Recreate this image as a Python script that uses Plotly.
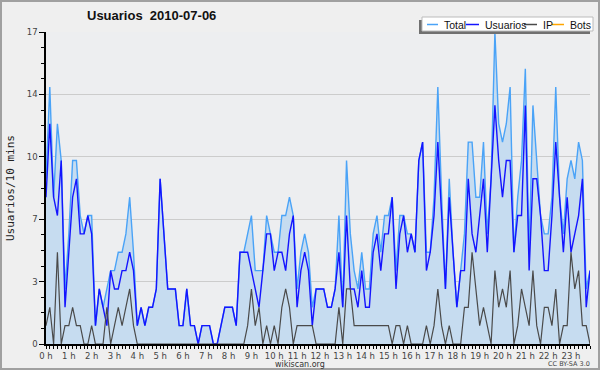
import numpy as np
import plotly.graph_objects as go

# ---- data: 144 ten-minute slots of 2010-07-06 ----
usuarios = [8,12,8,7,10,2,5,8,9,6,6,7,6,1,3,2,1,4,3,3,4,4,5,4,1,2,1,2,
            2,3,9,6,3,3,3,1,1,3,1,1,0,1,1,1,0,0,1,2,2,2,1,5,5,5,4,3,2,
            4,6,6,4,5,5,4,6,7,2,4,5,4,1,3,3,3,2,2,3,5,2,7,3,3,2,4,2,2,
            5,6,4,6,6,8,3,6,7,5,6,5,10,11,4,5,7,11,7,3,8,5,2,4,4,9,6,5,
            7,9,5,9,13,10,8,10,10,5,7,7,13,4,9,9,7,4,4,7,11,8,5,8,5,6,7,9,2,4]
ip = [1,2,0,5,0,1,1,2,1,1,0,0,1,0,0,0,2,0,1,2,1,2,3,1,0,0,0,0,
      0,0,0,0,0,0,0,0,0,0,0,0,0,0,0,0,0,0,0,0,0,0,0,0,0,1,3,1,2,
      0,1,0,1,0,2,3,2,0,1,1,1,1,1,0,0,0,0,0,0,2,0,3,3,1,1,1,1,1,
      1,1,1,1,1,0,1,1,0,1,0,0,0,0,1,0,1,3,1,0,1,0,0,0,2,2,5,3,
      1,2,1,0,4,2,3,2,4,0,1,3,2,1,4,1,0,2,2,1,3,0,1,1,5,3,4,1,1,0]
total = [9,14,8,12,10,3,6,10,10,7,6,7,7,1,3,2,3,4,4,5,5,6,8,5,1,2,1,2,
         2,3,9,6,3,3,3,1,1,3,1,1,0,1,1,1,0,0,1,2,2,2,1,5,5,6,7,4,4,
         4,7,6,5,5,7,7,8,7,3,5,6,5,2,3,3,3,2,2,3,7,2,10,6,4,3,5,3,3,
         6,7,5,7,7,8,4,7,7,6,6,5,10,11,5,5,8,14,8,3,9,5,2,4,6,11,11,8,
         8,11,6,9,17,12,11,12,14,5,8,10,15,5,13,10,7,6,6,8,14,8,6,9,10,9,11,10,3,4]
bots = [0] * 144
slot_hours = np.arange(144) / 6.0          # 10-minute slots, in hours
hour_ticks = list(range(24))
hour_labels = [f"{h} h" for h in hour_ticks]
y_ticks = [0, 3.4, 6.8, 10.2, 13.6, 17]
y_labels = ["0", "3", "7", "10", "14", "17"]

# ---- layout geometry ----
W, H = 600, 370
L, R, T, B = 46, 10, 32, 26
PW, PH = W - L - R, H - T - B
def px(x): return (x - L) / PW
def py(y): return (H - B - y) / PH

C_TOTAL = "#4aa3f7"
C_FILL = "#c6dcf0"
C_USR = "#1414ff"
C_IP = "#4a4a4a"
C_BOTS = "#ffa500"

fig = go.Figure()
fig.add_trace(go.Scatter(x=slot_hours, y=bots, mode="lines", name="Bots",
                         line=dict(color=C_BOTS, width=1.2)))
fig.add_trace(go.Scatter(x=slot_hours, y=total, mode="lines", name="Total",
                         line=dict(color=C_TOTAL, width=1.4),
                         fill="tozeroy", fillcolor=C_FILL))
fig.add_trace(go.Scatter(x=slot_hours, y=usuarios, mode="lines", name="Usuarios",
                         line=dict(color=C_USR, width=1.4)))
fig.add_trace(go.Scatter(x=slot_hours, y=ip, mode="lines", name="IP",
                         line=dict(color=C_IP, width=1.2)))

tickfont = dict(family="DejaVu Sans", size=8.5, color="#444")
fig.update_layout(
    width=W, height=H, showlegend=False,
    margin=dict(l=L, r=R, t=T, b=B),
    paper_bgcolor="#efefef", plot_bgcolor="#edeef0",
    xaxis=dict(range=[0, 143 / 6], tickvals=hour_ticks, ticktext=hour_labels,
               ticks="outside", ticklen=3, tickcolor="#000", tickwidth=1,
               minor=dict(dtick=1 / 6, ticks="outside", ticklen=3, tickcolor="#000", showgrid=False),
               showgrid=False, zeroline=False, showline=True, linecolor="#000", linewidth=1.5,
               tickfont=tickfont, fixedrange=True),
    yaxis=dict(range=[0, 17], tickvals=y_ticks, ticktext=y_labels,
               ticks="outside", ticklen=5, tickcolor="#000", tickwidth=1,
               minor=dict(dtick=0.85, ticks="outside", ticklen=3, tickcolor="#000", showgrid=False),
               showgrid=True, gridcolor="#cccccc", gridwidth=1, zeroline=False,
               showline=True, linecolor="#000", linewidth=1.5,
               tickfont=tickfont, fixedrange=True),
)

shapes = []
# outer frame
shapes.append(dict(type="rect", xref="paper", yref="paper", x0=px(1), x1=px(599), y0=py(369), y1=py(1),
                   line=dict(color="#a0a0a0", width=2), fillcolor="rgba(0,0,0,0)", layer="above"))
# legend shadow and box
shapes.append(dict(type="rect", xref="paper", yref="paper", x0=px(419), x1=px(590), y0=py(34), y1=py(20),
                   line=dict(width=0), fillcolor="#707070", layer="above"))
shapes.append(dict(type="rect", xref="paper", yref="paper", x0=px(422), x1=px(593), y0=py(31), y1=py(17),
                   line=dict(color="#bbbbbb", width=1), fillcolor="#ffffff", layer="above"))
legend_items = [("Total", C_TOTAL, 427, 438, 442),
                ("Usuarios", C_USR, 466, 479, 483),
                ("IP", C_IP, 524, 537, 541),
                ("Bots", C_BOTS, 552, 564, 568)]
annotations = []
for name, col, lx0, lx1, tx in legend_items:
    shapes.append(dict(type="line", xref="paper", yref="paper", x0=px(lx0), x1=px(lx1),
                       y0=py(24.5), y1=py(24.5), line=dict(color=col, width=1.5), layer="above"))
    annotations.append(dict(text=name, xref="paper", yref="paper", x=px(tx), y=py(24.5),
                            xanchor="left", yanchor="middle", showarrow=False,
                            font=dict(family="Liberation Sans", size=10.5, color="#111")))
fig.update_layout(shapes=shapes)

annotations += [
    dict(text="<b>Usuarios\u00a0\u00a02010-07-06</b>", xref="paper", yref="paper", x=px(151), y=py(16),
         xanchor="center", yanchor="middle", showarrow=False,
         font=dict(family="Liberation Sans", size=13, color="#111")),
    dict(text="Usuarios/10 mins", xref="paper", yref="paper", x=px(10), y=py(188),
         xanchor="center", yanchor="middle", textangle=-90, showarrow=False,
         font=dict(family="DejaVu Sans Mono", size=11, color="#222")),
    dict(text="wikiscan.org", xref="paper", yref="paper", x=px(300), y=py(364.5),
         xanchor="center", yanchor="middle", showarrow=False,
         font=dict(family="DejaVu Sans", size=8, color="#333")),
    dict(text="CC BY-SA 3.0", xref="paper", yref="paper", x=px(569), y=py(364),
         xanchor="center", yanchor="middle", showarrow=False,
         font=dict(family="DejaVu Sans", size=6.5, color="#444")),
]
fig.update_layout(annotations=annotations)

fig.write_html("out.html", config=dict(displayModeBar=False),
               post_script="document.body.style.margin='0';document.body.style.overflow='hidden';")
